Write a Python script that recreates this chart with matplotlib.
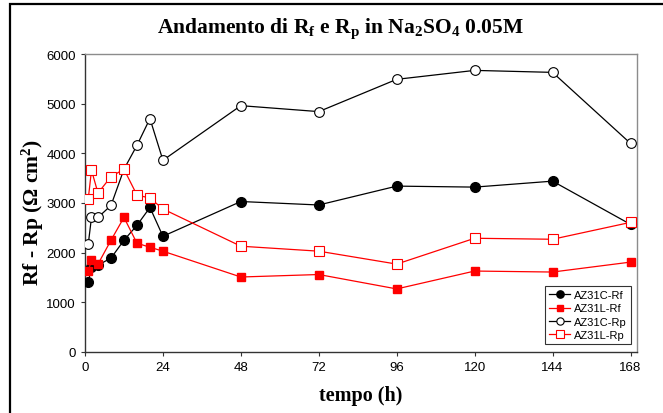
import matplotlib
matplotlib.use("Agg")
import matplotlib.pyplot as plt
from matplotlib.patches import Rectangle

# Immersion time (h) and resistances (Ohm cm^2)
tempo = [1, 2, 4, 8, 12, 16, 20, 24, 48, 72, 96, 120, 144, 168]
az31c_rf = [1400, 1710, 1750, 1890, 2250, 2550, 2910, 2330, 3030, 2960, 3340, 3320, 3440, 2570]
az31l_rf = [1630, 1850, 1770, 2250, 2710, 2190, 2110, 2030, 1510, 1560, 1270, 1630, 1610, 1810]
az31c_rp = [2170, 2710, 2710, 2950, 3680, 4160, 4700, 3860, 4960, 4840, 5490, 5670, 5630, 4200]
az31l_rp = [3080, 3660, 3200, 3530, 3680, 3160, 3100, 2880, 2130, 2030, 1770, 2290, 2270, 2610]

x_ticks = [0, 24, 48, 72, 96, 120, 144, 168]
y_ticks = [0, 1000, 2000, 3000, 4000, 5000, 6000]

plt.rcParams['mathtext.fontset'] = 'custom'
plt.rcParams['mathtext.rm'] = 'Liberation Serif:bold'
plt.rcParams['mathtext.it'] = 'Liberation Serif:bold'
plt.rcParams['mathtext.bf'] = 'Liberation Serif:bold'

W, H = 663, 414
fig = plt.figure(figsize=(W / 100, H / 100), dpi=100)
ax = fig.add_axes([85 / W, 1 - 353 / H, (637 - 85) / W, (353 - 55) / H])

# outer frame of the chart area
fig.patches.append(Rectangle((10 / W, -0.05), 1.2, 1 - 5 / H + 0.05,
                             transform=fig.transFigure, fill=False,
                             edgecolor='black', linewidth=1.6))

red = '#FF0000'
lw = 0.9
ax.plot(tempo, az31c_rf, '-o', color='black', mfc='black', mec='black',
        ms=7, lw=lw, label='AZ31C-Rf', zorder=3)
ax.plot(tempo, az31l_rf, '-s', color=red, mfc=red, mec=red,
        ms=6.3, lw=lw, label='AZ31L-Rf', zorder=3)
ax.plot(tempo, az31c_rp, '-o', color='black', mfc='white', mec='black',
        ms=7, mew=0.8, lw=lw, label='AZ31C-Rp', zorder=3)
ax.plot(tempo, az31l_rp, '-s', color=red, mfc='white', mec=red,
        ms=6.8, mew=0.8, lw=lw, label='AZ31L-Rp', zorder=3)

ax.set_xlim(0, 170)
ax.set_ylim(0, 6000)
ax.set_xticks(x_ticks)
ax.set_yticks(y_ticks)
ax.tick_params(axis='both', direction='out', length=3, width=0.8,
               labelsize=9.5, colors='#333333', labelcolor='black')
for lab in ax.get_xticklabels() + ax.get_yticklabels():
    lab.set_family('Liberation Sans')

for side in ('left', 'bottom'):
    ax.spines[side].set_color('#333333')
    ax.spines[side].set_linewidth(1.0)
for side in ('top', 'right'):
    ax.spines[side].set_color('#8c8c8c')
    ax.spines[side].set_linewidth(1.0)

ax.set_xlabel('tempo (h)', family='Liberation Serif', weight='bold',
              fontsize=14.5)
ax.xaxis.set_label_coords(0.5, -0.112)
ax.set_ylabel('Rf - Rp (Ω cm$^{2}$)', family='Liberation Serif',
              weight='bold', fontsize=15.5)
ax.yaxis.set_label_coords(-0.07, 0.47)

fig.text(340 / W, 1 - 29 / H,
         r'Andamento di R$_{f}$ e R$_{p}$ in Na$_{2}$SO$_{4}$ 0.05M',
         ha='center', va='center', family='Liberation Serif',
         weight='bold', fontsize=15.5)

leg = ax.legend(loc='lower right', bbox_to_anchor=(1 - 6 / 552, 8 / 298),
                prop={'family': 'Liberation Sans', 'size': 8},
                frameon=True, fancybox=False, edgecolor='black',
                borderpad=0.35, labelspacing=0.3, handlelength=1.9,
                handletextpad=0.35, borderaxespad=0, markerscale=0.75)
leg.get_frame().set_linewidth(0.8)

fig.savefig('out.png', dpi=100)
